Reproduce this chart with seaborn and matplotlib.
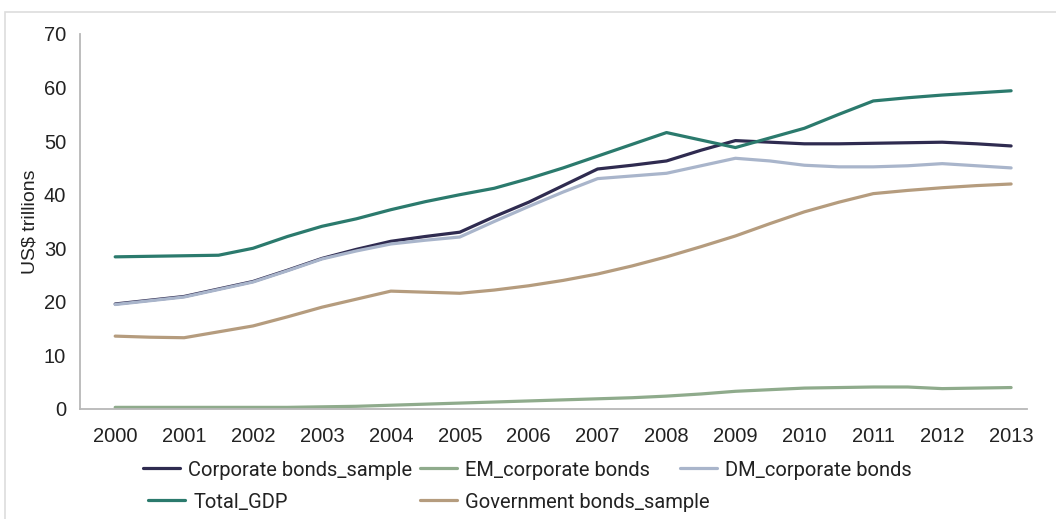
import pandas as pd
import numpy as np
import seaborn as sns
import matplotlib.pyplot as plt
from matplotlib.patches import Rectangle

# half-year points
years = [2000 + 0.5 * i for i in range(27)]

corp_bonds = [19.6, 20.3, 21.0, 22.4, 23.8, 25.9, 28.1, 29.8, 31.3, 32.2, 33.0, 35.9, 38.6, 41.7,
              44.8, 45.5, 46.3, 48.3, 50.1, 49.8, 49.5, 49.5, 49.6, 49.7, 49.8, 49.5, 49.1]
em_corp = [0.3, 0.3, 0.3, 0.3, 0.3, 0.3, 0.4, 0.5, 0.7, 0.9, 1.1, 1.3, 1.5, 1.7,
           1.9, 2.1, 2.4, 2.8, 3.3, 3.6, 3.9, 4.0, 4.1, 4.1, 3.8, 3.9, 4.0]
dm_corp = [19.5, 20.2, 20.9, 22.3, 23.7, 25.8, 28.0, 29.5, 30.8, 31.5, 32.1, 35.0, 37.8, 40.5,
           43.0, 43.5, 44.0, 45.4, 46.8, 46.3, 45.5, 45.2, 45.2, 45.4, 45.8, 45.4, 45.0]
total_gdp = [28.4, 28.5, 28.6, 28.7, 30.0, 32.2, 34.1, 35.5, 37.2, 38.7, 40.0, 41.2, 43.0, 45.0,
             47.2, 49.4, 51.6, 50.2, 48.8, 50.6, 52.4, 55.0, 57.5, 58.1, 58.6, 59.0, 59.4]
gov_bonds = [13.6, 13.4, 13.3, 14.4, 15.5, 17.2, 19.0, 20.5, 22.0, 21.8, 21.6, 22.2, 23.0, 24.0,
             25.2, 26.7, 28.4, 30.3, 32.3, 34.6, 36.8, 38.6, 40.2, 40.8, 41.3, 41.7, 42.0]

series_names = ["Corporate bonds_sample", "EM_corporate bonds", "DM_corporate bonds",
                "Total_GDP", "Government bonds_sample"]
colors = ["#2f2b50", "#8fab8c", "#a9b5cb", "#2b7a6d", "#b59c7e"]
tick_years = list(range(2000, 2014))

df = pd.DataFrame({"year": years * 5,
                   "value": corp_bonds + em_corp + dm_corp + total_gdp + gov_bonds,
                   "series": np.repeat(series_names, len(years))})

sns.set_style("white")
plt.rcParams["font.family"] = ["Liberation Sans", "DejaVu Sans"]

W, H = 1056, 519
fig = plt.figure(figsize=(W / 100, H / 100), dpi=100)
ax = fig.add_axes([0.0758, 0.212, 0.8967, 0.7225])

sns.lineplot(data=df, x="year", y="value", hue="series", hue_order=series_names,
             palette=dict(zip(series_names, colors)), linewidth=2.3, ax=ax, legend=False)

ax.set_xlim(1999.49, 2013.23)
ax.set_ylim(0, 70)
ax.set_xticks(tick_years)
ax.set_xticklabels([str(y) for y in tick_years])
ax.set_yticks(range(0, 71, 10))
ax.tick_params(axis="y", length=5, width=1, color="#b0b0b0", labelsize=14.5, pad=5, labelcolor="#222222")
ax.tick_params(axis="x", length=0, labelsize=14.5, pad=13, labelcolor="#222222")
ax.set_xlabel("")
ax.set_ylabel("US$ trillions", fontsize=14, color="#222222", labelpad=4)

for side in ["top", "right"]:
    ax.spines[side].set_visible(False)
for side in ["left", "bottom"]:
    ax.spines[side].set_color("#b8b8b8")
    ax.spines[side].set_linewidth(1.3)

# legend entries placed like the original (pixel positions of each entry's handle)
legend_pos = [(143, 470), (420, 470), (680, 470), (148, 502), (420, 502)]
for name, col, (px, py) in zip(series_names, colors, legend_pos):
    leg = fig.legend([plt.Line2D([], [], color=col, lw=2.3)], [name], loc="center left",
                     bbox_to_anchor=(px / W, 1 - py / H), frameon=False, borderpad=0,
                     borderaxespad=0, handlelength=1.85, handletextpad=0.4,
                     prop={"family": "Roboto", "size": 14.5})
    leg.get_texts()[0].set_color("#222222")

# light frame around the chart
fig.patches.append(Rectangle((5 / W, -0.05), 1.1, 1 - 12 / H + 0.05, transform=fig.transFigure,
                             fill=False, edgecolor="#dddddd", linewidth=1.2))

fig.savefig("out.png", dpi=100, facecolor="white")
